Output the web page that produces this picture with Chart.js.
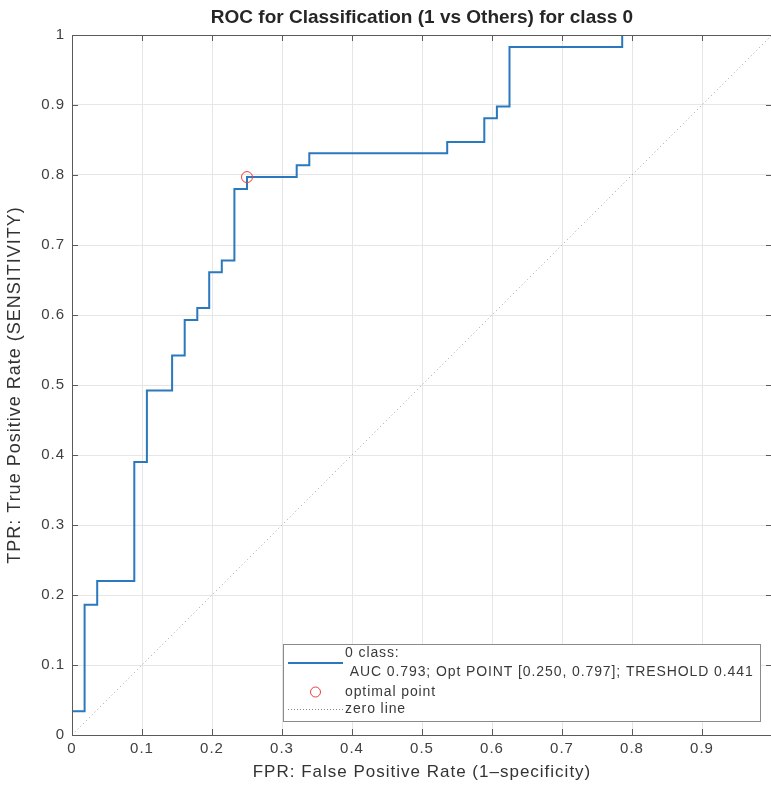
<!DOCTYPE html>
<html>
<head>
<meta charset="utf-8">
<script src="https://cdn.jsdelivr.net/npm/chart.js@4/dist/chart.umd.min.js"></script>
<style>
  html, body { margin: 0; padding: 0; background: #fff; }
</style>
</head>
<body>
<canvas id="roc" width="771" height="785"></canvas>
<script>
// ROC corners (x = where the step rises, y = top of the step)
const fpr = [0, 0, 0.018, 0.036, 0.089, 0.107, 0.143, 0.161, 0.179, 0.196, 0.214,
             0.232, 0.250, 0.321, 0.339, 0.536, 0.589, 0.607, 0.625, 0.786, 1.0];
const tpr = [0, 0.034, 0.186, 0.220, 0.390, 0.492, 0.542, 0.593, 0.610, 0.661, 0.678,
             0.780, 0.797, 0.814, 0.831, 0.847, 0.881, 0.898, 0.983, 1.0, 1.0];

const optFpr = [0.250];
const optTpr = [0.797];

const zeroX = [0, 1];
const zeroY = [0, 1];

const tickValues = [0, 0.1, 0.2, 0.3, 0.4, 0.5, 0.6, 0.7, 0.8, 0.9, 1];

const titleText = 'ROC for Classification (1 vs Others) for class 0';
const xTitle = 'FPR: False Positive Rate (1\u2013specificity)';
const yTitle = 'TPR: True Positive Rate (SENSITIVITY)';
const legendLabels = ['0 class:', ' AUC 0.793; Opt POINT [0.250, 0.797]; TRESHOLD 0.441', 'optimal point', 'zero line'];

const FONT = "'Liberation Sans', Arial, Helvetica, sans-serif";
const AXIS_COLOR = '#5a5a5a';
const LINE_BLUE = '#2a78bd';
const RED = '#f03c3c';

function zip(xs, ys) {
    return xs.map((x, i) => ({ x: x, y: ys[i] }));
}

// the figure was cropped: the x = 1 edge sits just past the right side of the picture
const stretchPlugin = {
    id: 'stretch',
    afterLayout(chart) {
        const x = chart.scales.x;
        const right = chart.width + 1;
        chart.chartArea.right = right;
        chart.chartArea.width = right - chart.chartArea.left;
        x.right = right;
        x.width = right - x.left;
        x.configure();
    }
};

// the MATLAB text is set quite loose, so widen the letters a bit
const spacingPlugin = {
    id: 'spacing',
    beforeDraw(chart) {
        chart.ctx.letterSpacing = '1px';
    }
};

// box round the axes, inward ticks and the bold title
const boxPlugin = {
    id: 'axesBox',
    afterDraw(chart) {
        const { ctx, chartArea, scales } = chart;
        ctx.save();
        ctx.strokeStyle = AXIS_COLOR;
        ctx.lineWidth = 1;
        ctx.strokeRect(Math.round(chartArea.left) + 0.5, Math.round(chartArea.top) + 0.5,
            Math.round(chartArea.right - chartArea.left), Math.round(chartArea.bottom - chartArea.top));
        ctx.beginPath();
        tickValues.forEach(v => {
            const px = Math.round(scales.x.getPixelForValue(v)) + 0.5;
            ctx.moveTo(px, chartArea.bottom); ctx.lineTo(px, chartArea.bottom - 6);
            ctx.moveTo(px, chartArea.top); ctx.lineTo(px, chartArea.top + 6);
            const py = Math.round(scales.y.getPixelForValue(v)) + 0.5;
            ctx.moveTo(chartArea.left, py); ctx.lineTo(chartArea.left + 6, py);
            ctx.moveTo(chartArea.right, py); ctx.lineTo(chartArea.right - 6, py);
        });
        ctx.stroke();

        ctx.letterSpacing = '0px';
        ctx.font = 'bold 19px ' + FONT;
        ctx.fillStyle = '#262626';
        ctx.textAlign = 'center';
        ctx.textBaseline = 'middle';
        ctx.fillText(titleText, (chartArea.left + chartArea.right) / 2, chartArea.top - 17);
        ctx.restore();
    }
};

// legend box in the lower right corner
const legendPlugin = {
    id: 'rocLegend',
    afterDraw(chart) {
        const { ctx, chartArea } = chart;
        const right = chartArea.right - 12, bottom = chartArea.bottom - 14;
        const w = 477, h = 77;
        const left = right - w, top = bottom - h;
        ctx.save();
        ctx.fillStyle = '#fff';
        ctx.fillRect(left, top, w, h);
        ctx.strokeStyle = '#8a8a8a';
        ctx.lineWidth = 1;
        ctx.strokeRect(Math.round(left) + 0.5, Math.round(top) + 0.5, w, h);

        const sx0 = left + 5, sx1 = left + 60, tx = left + 62;
        ctx.letterSpacing = '0.9px';
        ctx.font = '14px ' + FONT;
        ctx.fillStyle = '#3a3a3a';
        ctx.textBaseline = 'middle';
        ctx.fillText(legendLabels[0], tx, top + 9);
        ctx.fillText(legendLabels[1], tx, top + 28);
        ctx.fillText(legendLabels[2], tx, top + 48);
        ctx.fillText(legendLabels[3], tx, top + 65);

        // blue line sample
        ctx.strokeStyle = LINE_BLUE;
        ctx.lineWidth = 2;
        ctx.beginPath();
        ctx.moveTo(sx0, top + 19); ctx.lineTo(sx1, top + 19);
        ctx.stroke();

        // red circle
        ctx.strokeStyle = RED;
        ctx.lineWidth = 1;
        ctx.beginPath();
        ctx.arc((sx0 + sx1) / 2, top + 48, 5, 0, Math.PI * 2);
        ctx.stroke();

        // dotted line
        ctx.strokeStyle = '#888';
        ctx.setLineDash([1, 2]);
        ctx.beginPath();
        ctx.moveTo(sx0, top + 65.5); ctx.lineTo(sx1, top + 65.5);
        ctx.stroke();
        ctx.restore();
    }
};

const tickFmt = v => (v === 0 || v === 1) ? String(v) : v.toFixed(1);

new Chart(document.getElementById('roc'), {
    type: 'scatter',
    data: {
        datasets: [
            {
                label: 'optimal point',
                data: zip(optFpr, optTpr),
                showLine: false,
                pointRadius: 5.5,
                pointBackgroundColor: 'rgba(0,0,0,0)',
                pointBorderColor: RED,
                pointBorderWidth: 1,
                order: 0
            },
            {
                label: '0 class',
                data: zip(fpr, tpr),
                showLine: true,
                stepped: 'before',
                borderColor: LINE_BLUE,
                borderWidth: 2,
                pointRadius: 0,
                fill: false,
                order: 1
            },
            {
                label: 'zero line',
                data: zip(zeroX, zeroY),
                showLine: true,
                borderColor: '#a0a0a0',
                borderWidth: 1,
                borderDash: [1, 3],
                pointRadius: 0,
                order: 2
            }
        ]
    },
    options: {
        responsive: false,
        animation: false,
        layout: { padding: { top: 35, right: 0, bottom: 0, left: 0 } },
        plugins: {
            legend: { display: false },
            tooltip: { enabled: false },
            title: { display: false }
        },
        scales: {
            x: {
                type: 'linear',
                min: 0,
                max: 1,
                afterBuildTicks: s => { s.ticks = tickValues.map(v => ({ value: v })); },
                afterFit: s => { s.height = 50; s.paddingLeft = 0; s.paddingRight = 0; },
                ticks: {
                    callback: v => v === 1 ? '' : tickFmt(v),
                    color: '#404040',
                    font: { family: FONT, size: 15 },
                    padding: 5,
                    maxRotation: 0,
                    autoSkip: false
                },
                grid: { color: '#e6e6e6', drawTicks: false },
                border: { display: false },
                title: {
                    display: true,
                    text: xTitle,
                    color: '#333',
                    font: { family: FONT, size: 17 },
                    padding: { top: 0, bottom: 2 }
                }
            },
            y: {
                type: 'linear',
                min: 0,
                max: 1,
                afterBuildTicks: s => { s.ticks = tickValues.map(v => ({ value: v })); },
                afterFit: s => { s.width = 72; s.paddingTop = 0; s.paddingBottom = 0; },
                ticks: {
                    callback: tickFmt,
                    color: '#404040',
                    font: { family: FONT, size: 15 },
                    padding: 7,
                    autoSkip: false
                },
                grid: { color: '#e6e6e6', drawTicks: false },
                border: { display: false },
                title: {
                    display: true,
                    text: yTitle,
                    color: '#333',
                    font: { family: FONT, size: 18 },
                    padding: { top: 4, bottom: 0 }
                }
            }
        }
    },
    plugins: [stretchPlugin, spacingPlugin, boxPlugin, legendPlugin]
});
</script>
</body>
</html>
